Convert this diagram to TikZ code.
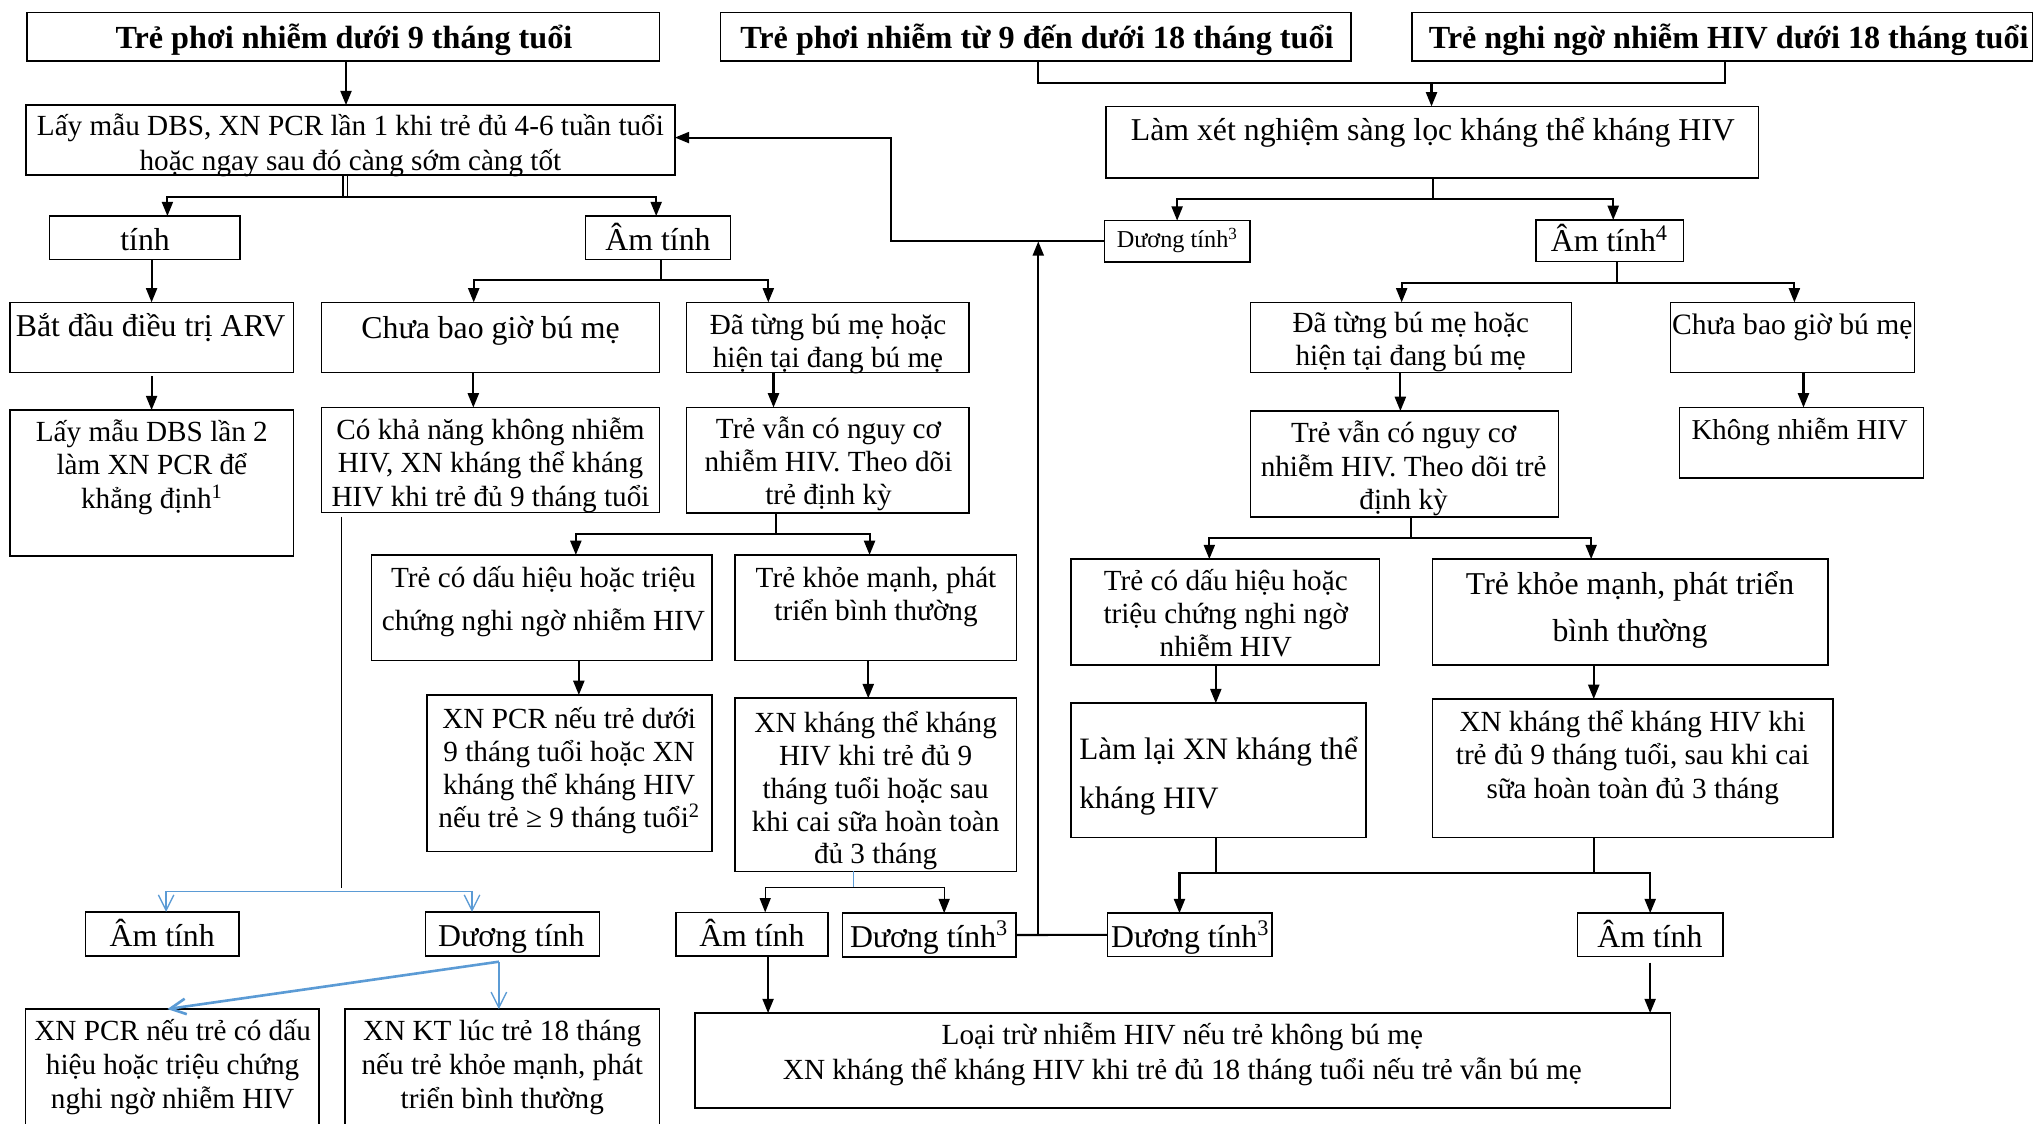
\documentclass[tikz,border=0pt]{standalone}
\usepackage{fontspec}
\setmainfont{Liberation Serif}
\usetikzlibrary{arrows.meta,calc}
\definecolor{bl}{RGB}{91,155,213}
\newcommand\fa{\fontsize{22.5}{25.6}\selectfont}
\newcommand\fb{\fontsize{24.5}{28}\selectfont}
\newcommand\ft{\fontsize{24.8}{28}\selectfont\bfseries}
\newcommand\fsm{\fontsize{18.7}{21}\selectfont}
\newcommand\bx[5]{\node[box,minimum width={(#4)-(#2)},minimum height={(#5)-(#3)}] (#1) at ({((#2)+(#4))/2},{((#3)+(#5))/2}) {};}
% text node: name, font, x, baseline of LAST line, text
\newcommand\tx[5]{\node[txt,font=#2] (#1) at (#3,{(#4)+2}) {#5};}
\begin{document}
\begin{tikzpicture}[x=1pt,y=-1pt,
 box/.style={draw,line width=1.2pt,inner sep=0pt,outer sep=0pt},
 txt/.style={inner sep=0pt,outer sep=0pt,anchor=base,align=center},
 con/.style={line width=1.6pt},
 arr/.style={con,-{Triangle[length=11pt,width=8.5pt]}},
 arrthin/.style={line width=1pt,-{Triangle[length=11pt,width=8.5pt]}},
 blu/.style={draw=bl,line width=1pt,-{Straight Barb[length=12pt,width=12pt]}},
]
\fill[white] (0,0) rectangle (1568,866);
\useasboundingbox (0,0) rectangle (1568,866);
% ---------- boxes ----------
\bx{A}{20.6}{9.5}{508}{47}
\bx{B}{555}{9.5}{1041}{47}
\bx{C}{1088}{9.5}{1566}{47}
\bx{D}{852}{82}{1355}{137}
\bx{E}{20}{81}{520}{135}
\bx{F}{38}{166.5}{185}{200}
\bx{G}{451}{166.5}{563}{200}
\bx{Dp}{851}{170}{963}{202}
\bx{Am4}{1183.6}{169.5}{1297}{201.6}
\bx{H}{7.6}{233}{226}{287}
\bx{J}{247.6}{233}{508}{287}
\bx{K}{529}{233}{746.6}{287}
\bx{K2}{963.6}{233}{1210.7}{287}
\bx{C2}{1287}{233}{1475}{287}
\bx{I}{7.6}{316}{226}{428.4}
\bx{L}{247.6}{314}{508}{395}
\bx{M}{529}{314}{746.6}{395.3}
\bx{M2}{963.6}{316.7}{1201}{398.4}
\bx{Kh}{1294}{314}{1482}{368.4}
\bx{N}{286.3}{427.6}{548.5}{509}
\bx{O}{566.4}{427.6}{783.2}{509}
\bx{N2}{825}{430.8}{1063}{512.4}
\bx{O2}{1103.6}{430.8}{1408.6}{512.4}
\bx{P}{329}{535.5}{548.5}{656}
\bx{Q}{566.4}{538}{783.2}{671.5}
\bx{R2}{825}{541.8}{1052.6}{645.4}
\bx{S2}{1103.6}{538.6}{1412.4}{645.4}
\bx{R}{66}{702.6}{184}{736.6}
\bx{S}{328}{702.6}{461.8}{736.6}
\bx{V}{521}{703}{638}{736.7}
\bx{W}{649}{703.6}{783}{737.3}
\bx{W2}{853.5}{703.6}{980}{737}
\bx{Y}{1215.5}{703.6}{1327.4}{737}
\bx{T}{19.6}{777.5}{246}{872}
\bx{U}{265.7}{777.5}{508}{872}
\bx{X}{535.6}{780.6}{1287}{853.8}
% ---------- texts ----------
\tx{At}{\ft}{265}{35.5}{Trẻ phơi nhiễm dưới 9 tháng tuổi}
\tx{Bt}{\ft}{799}{35.5}{Trẻ phơi nhiễm từ 9 đến dưới 18 tháng tuổi}
\tx{Ct}{\ft}{1332}{35.5}{Trẻ nghi ngờ nhiễm HIV dưới 18 tháng tuổi}
\tx{Dt}{\fb}{1104}{106}{Làm xét nghiệm sàng lọc kháng thể kháng HIV}
\tx{Et}{\fontsize{22.5}{26.5}\selectfont}{270}{129}{Lấy mẫu DBS, XN PCR lần 1 khi trẻ đủ 4-6 tuần tuổi\\hoặc ngay sau đó càng sớm càng tốt}
\tx{Ft}{\fb}{111.8}{191}{tính}
\tx{Gt}{\fb}{507}{191}{Âm tính}
\tx{Dpt}{\fsm}{907}{189}{Dương tính\textsuperscript{3}}
\tx{Am4t}{\fb}{1240}{192}{Âm tính\textsuperscript{4}}
\tx{Ht}{\fb}{116}{257}{Bắt đầu điều trị ARV}
\tx{Jt}{\fb}{378}{258.5}{Chưa bao giờ bú mẹ}
\tx{Kt}{\fa}{638}{281}{Đã từng bú mẹ hoặc\\hiện tại đang bú mẹ}
\tx{K2t}{\fa}{1087}{279.6}{Đã từng bú mẹ hoặc\\hiện tại đang bú mẹ}
\tx{C2t}{\fontsize{22.8}{26}\selectfont}{1381}{255.5}{Chưa bao giờ bú mẹ}
\tx{It}{\fa}{117}{389.5}{Lấy mẫu DBS lần 2\\làm XN PCR để\\khẳng định\textsuperscript{1}}
\tx{Lt}{\fa}{378}{388}{Có khả năng không nhiễm\\HIV, XN kháng thể kháng\\HIV khi trẻ đủ 9 tháng tuổi}
\tx{Mt}{\fa}{638.4}{387}{Trẻ vẫn có nguy cơ\\nhiễm HIV. Theo dõi\\trẻ định kỳ}
\tx{M2t}{\fa}{1081.5}{390.5}{Trẻ vẫn có nguy cơ\\nhiễm HIV. Theo dõi trẻ\\định kỳ}
\tx{Kht}{\fontsize{22.2}{25}\selectfont}{1386.7}{337}{Không nhiễm HIV}
\tx{Nt}{\fontsize{22.5}{33.4}\selectfont}{418.7}{484}{Trẻ có dấu hiệu hoặc triệu\\chứng nghi ngờ nhiễm HIV}
\tx{Ot}{\fa}{675}{476}{Trẻ khỏe mạnh, phát\\triển bình thường}
\tx{N2t}{\fa}{944.5}{504}{Trẻ có dấu hiệu hoặc\\triệu chứng nghi ngờ\\nhiễm HIV}
\tx{O2t}{\fontsize{24.5}{36}\selectfont}{1256}{492}{Trẻ khỏe mạnh, phát triển\\bình thường}
\tx{Pt}{\fa}{438.5}{635.8}{XN PCR nếu trẻ dưới\\9 tháng tuổi hoặc XN\\kháng thể kháng HIV\\nếu trẻ ≥ 9 tháng tuổi\textsuperscript{2}}
\tx{Qt}{\fontsize{22.5}{25.3}\selectfont}{674.7}{663.7}{XN kháng thể kháng\\HIV khi trẻ đủ 9\\tháng tuổi hoặc sau\\khi cai sữa hoàn toàn\\đủ 3 tháng}
\node[txt,anchor=base west,align=left,font=\fontsize{24}{37.3}\selectfont] (R2t) at (831.6,622.8) {Làm lại XN kháng thể\\kháng HIV};
\tx{S2t}{\fa}{1258}{613}{XN kháng thể kháng HIV khi\\trẻ đủ 9 tháng tuổi, sau khi cai\\sữa hoàn toàn đủ 3 tháng}
\tx{Rt}{\fb}{125}{727.5}{Âm tính}
\tx{St}{\fb}{394}{727.5}{Dương tính}
\tx{Vt}{\fb}{579.3}{727.5}{Âm tính}
\tx{Wt}{\fb}{715.8}{728}{Dương tính\textsuperscript{3}}
\tx{W2t}{\fb}{917}{728}{Dương tính\textsuperscript{3}}
\tx{Yt}{\fb}{1271.3}{728}{Âm tính}
\tx{Tt}{\fontsize{22.5}{26.2}\selectfont}{133}{852.4}{XN PCR nếu trẻ có dấu\\hiệu hoặc triệu chứng\\nghi ngờ nhiễm HIV}
\tx{Ut}{\fontsize{22.5}{26.2}\selectfont}{387}{852.4}{XN KT lúc trẻ 18 tháng\\nếu trẻ khỏe mạnh, phát\\triển bình thường}
\tx{Xt}{\fontsize{22.5}{27}\selectfont}{911}{830}{Loại trừ nhiễm HIV nếu trẻ không bú mẹ\\XN kháng thể kháng HIV khi trẻ đủ 18 tháng tuổi nếu trẻ vẫn bú mẹ}
% ---------- connectors ----------
\draw[arr] (A.south -| 266.6,0) -- (E.north -| 266.6,0);
\draw[con] (B.south -| 800,0) -- ++(0,17) -| (C.south -| 1329,0);
\coordinate (jBC) at (1103,64);
\draw[arr] (jBC) -- (D.north -| jBC);
\draw[con] (D.south -| 1104,0) -- ++(0,16.5) coordinate (jD);
\draw[arr] (jD) -| (Dp.north -| 907,0);
\draw[arr] (jD) -| (Am4.north -| 1243,0);
\draw[arr] (Dp.west) -| (686.7,106) -- (E.east |- 0,106);
\draw[con] (W.east) -- (W2.west);
\draw[arr] (W.east -| 800,0) -- (Dp.west -| 800,0);
% E -> F, G
\coordinate (jE) at (266,152);
\draw[line width=1.1pt] (E.south -| 264.2,0) -- (jE -| 264.2,0);
\draw[line width=1.1pt] (E.south -| 267.8,0) -- (jE -| 267.8,0);
\draw[arr] (jE) -| (F.north -| 129,0);
\draw[arr] (jE) -| (G.north -| 505.6,0);
\draw[arr] (F.south -| H.north) -- (H.north);
\draw[arr] ([yshift=-3pt]H.south) -- (I.north);
% G -> J, K
\draw[con] (G.south -| 509,0) -- ++(0,15.7) coordinate (jG);
\draw[arr] (jG) -| (J.north -| 365,0);
\draw[arr] (jG) -| (K.north -| 592,0);
\draw[arr] (J.south -| 364.7,0) -- (L.north -| 364.7,0);
\draw[arr] (K.south -| 596,0) -- (M.north -| 596,0);
% M -> N, O
\draw[con] (M.south -| 598,0) -- ++(0,16.5) coordinate (jM);
\draw[arr] (jM) -| (N.north -| 443.7,0);
\draw[arr] (jM) -| (O.north -| 670,0);
\draw[arr] (N.south -| 446,0) -- (P.north -| 446,0);
\draw[arr] (O.south -| 669,0) -- (Q.north -| 669,0);
% Am4 -> K2, C2
\draw[con] (Am4.south -| 1246,0) -- ++(0,16.4) coordinate (jA4);
\draw[arr] (jA4) -| (K2.north -| 1080,0);
\draw[arr] (jA4) -| (C2.north -| 1382.6,0);
\draw[arr] (K2.south -| 1079,0) -- (M2.north -| 1079,0);
\draw[arr] (C2.south -| 1389.6,0) -- (Kh.north -| 1389.6,0);
% M2 -> N2, O2
\draw[con] (M2.south -| 1087.5,0) -- ++(0,16) coordinate (jM2);
\draw[arr] (jM2) -| (N2.north -| 931.8,0);
\draw[arr] (jM2) -| (O2.north -| 1226,0);
\draw[arr] (N2.south -| 936.8,0) -- (R2.north -| 936.8,0);
\draw[arr] (O2.south -| 1228,0) -- (S2.north -| 1228,0);
% R2, S2 -> W2, Y
\coordinate (jRS) at (1100,672.4);
\draw[con] (R2.south -| 936.8,0) -- (jRS -| 936.8,0);
\draw[con] (S2.south -| 1228,0) -- (jRS -| 1228,0);
\draw[arr] (jRS) -| (W2.north -| 908.8,0);
\draw[arr] (jRS) -| (Y.north -| 1271.5,0);
\draw[arr] ([yshift=-4.7pt]Y.south) -- (X.north -| Y.south);
% Q -> V, W
\coordinate (jQ) at (657.8,684);
\draw[draw=bl,line width=0.8pt] (Q.south -| jQ) -- (jQ);
\draw[arrthin] (jQ) -| (V.north -| 589.6,0);
\draw[arrthin] (jQ) -| (W.north -| 727.5,0);
\draw[arr] (V.south -| 591.8,0) -- (X.north -| 591.8,0);
% L -> R, S
\coordinate (jL) at (263,687);
\draw[line width=0.8pt] ($(L.south -| jL)+(0,3)$) -- ($(jL)+(0,-3)$);
\draw[blu] (jL) -| (R.north -| 128,0);
\draw[blu] (jL) -| (S.north -| 363.7,0);
% S -> T, U
\coordinate (jS) at ($(S.south -| 384.4,0)+(0,4.4)$);
\draw[blu,line width=2pt] (jS) -- (T.north -| 129,0);
\draw[blu] (jS) -- (U.north -| jS);
\end{tikzpicture}
\end{document}
